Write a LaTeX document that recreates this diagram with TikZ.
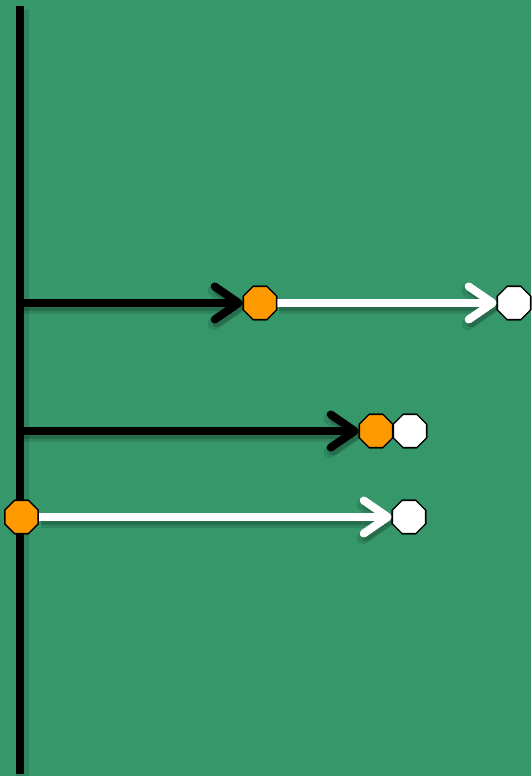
\documentclass[tikz,border=0pt]{standalone}
\usetikzlibrary{arrows.meta,shapes.geometric}
\definecolor{bg}{RGB}{54,152,106}
\definecolor{orng}{RGB}{255,153,0}
\begin{document}
\begin{tikzpicture}[x=1pt,y=-1pt,
  oct/.style={regular polygon, regular polygon sides=8, minimum size=36pt,
    inner sep=0pt, draw=black, line width=1.3pt},
  octo/.style={oct, fill=orng},
  octw/.style={oct, fill=white},
  barb/.style={-{Straight Barb[length=24pt,width=33pt,round]}},
  mainline/.style={line width=8pt},
  shadowA/.style={draw=black, opacity=0.12, line width=13pt,
    transform canvas={shift={(2pt,-4pt)}}},
  shadowB/.style={draw=black, opacity=0.18, line width=8pt,
    transform canvas={shift={(2pt,-4pt)}}}
]
\fill[bg] (0,0) rectangle (531,776);
\useasboundingbox (0,0) rectangle (531,776);

% coordinates
\coordinate (top) at (20,6);
\coordinate (bot) at (20,774);
\coordinate (v1) at (20,303);
\coordinate (v2) at (20,431);

% nodes (placed first so connectors can refer to them; drawn later on top)
\path (260,303) node[octo] (o1) {};
\path (514,303) node[octw] (w1) {};
\path (376,431) node[octo] (o2) {};
\path (410,431) node[octw] (w2) {};
\path (21.5,517) node[octo] (o3) {};
\path (409,517) node[octw] (w3) {};

% shadows
\draw[shadowA] (top) -- (bot);
\draw[shadowA,barb] (v1) -- (o1);
\draw[shadowB,barb] (v1) -- (o1);
\draw[shadowA,barb] (o1) -- (w1);
\draw[shadowB,barb] (o1) -- (w1);
\draw[shadowA,barb] (v2) -- (o2);
\draw[shadowB,barb] (v2) -- (o2);
\draw[shadowA,barb] (o3) -- (w3);
\draw[shadowB,barb] (o3) -- (w3);

% vertical line
\draw[mainline,black] (top) -- (bot);

% arrows
\draw[mainline,black,barb] (v1) -- (o1);
\draw[mainline,white,barb] (o1) -- (w1);
\draw[mainline,black,barb] (v2) -- (o2);
\draw[mainline,white,barb] (o3) -- (w3);

% redraw nodes on top
\path (o1) node[octo] {};
\path (w1) node[octw] {};
\path (o2) node[octo] {};
\path (w2) node[octw] {};
\path (o3) node[octo] {};
\path (w3) node[octw] {};
\end{tikzpicture}
\end{document}
